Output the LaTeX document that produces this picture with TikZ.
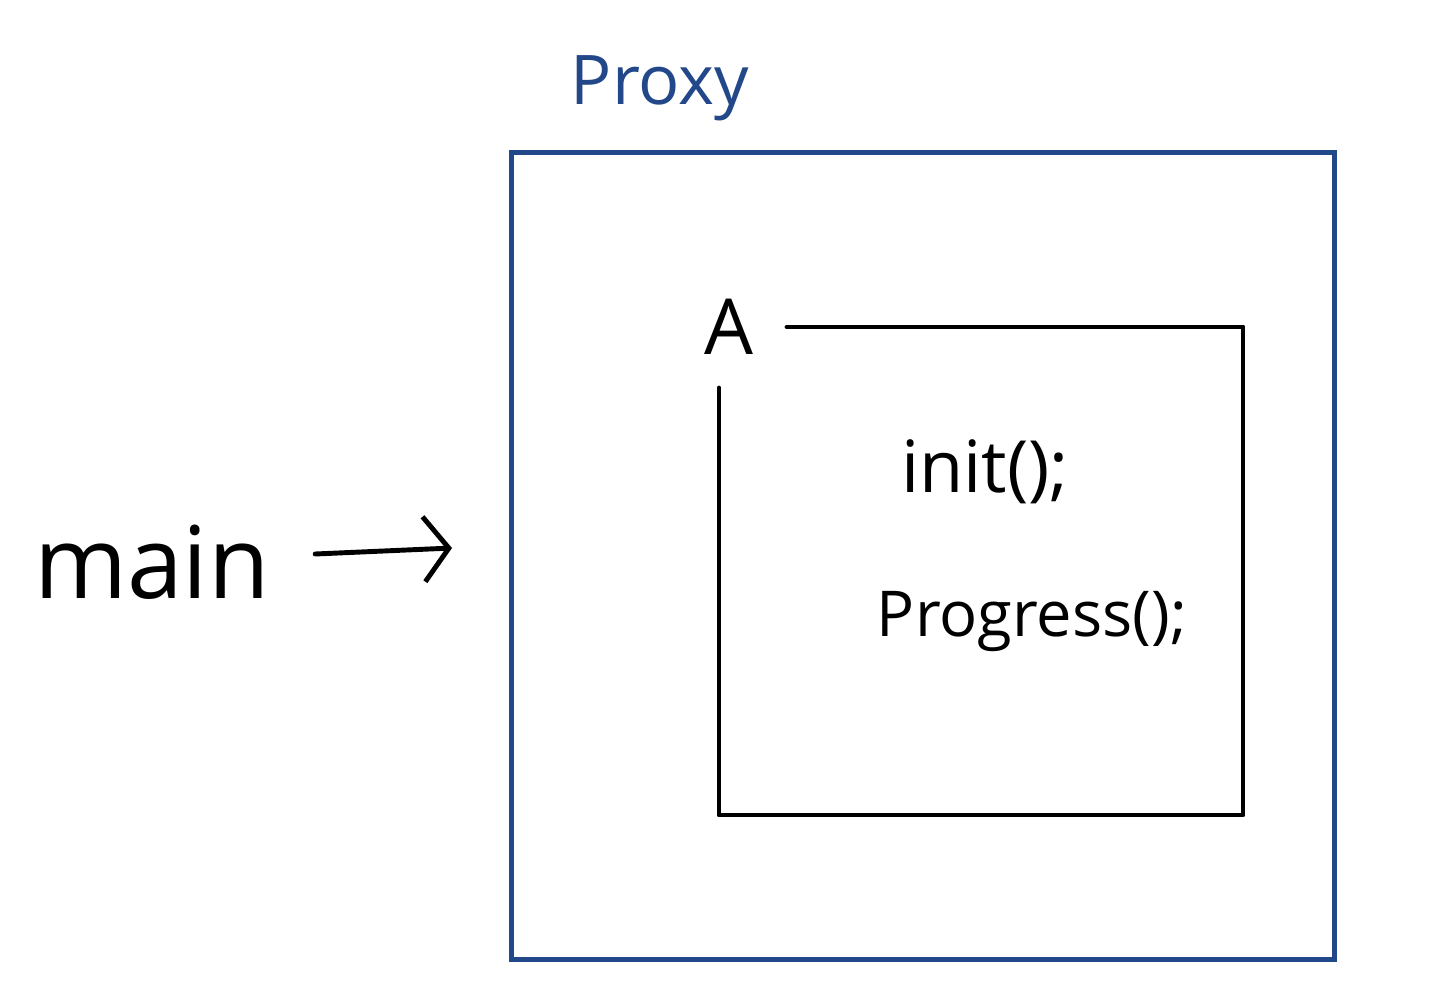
\documentclass[tikz,border=0pt]{standalone}
\usepackage{fontspec}
\setmainfont{Open Sans}
\usetikzlibrary{arrows.meta, positioning, calc}
\definecolor{pxBlue}{HTML}{23488A}
\definecolor{pxInk}{HTML}{000000}
\tikzset{
  pxframe/.style={
    draw=pxBlue, line width=2.8pt, minimum width=16.48cm,
    minimum height=16.16cm, inner sep=0pt,
  },
  pxline/.style={draw=pxInk, line width=2.8pt, line cap=round, line join=round},
  pxarrow/.style={
    -{Straight Barb[length=5mm, width=13mm, line width=2.8pt]}, draw=pxInk,
    line width=2.8pt, line cap=round,
  },
  pxlabel/.style={inner sep=0pt, font=\fontsize{#1}{#1}\selectfont},
}

\begin{document}
\begin{tikzpicture}[x=0.02cm, y=-0.02cm]
\useasboundingbox (0,0) rectangle (1440,1004);

% Proxy frame -------------------------------------------------------------
\node[pxframe] (proxybox) at (923,556) {};
\node[pxlabel=39pt, text=pxBlue] (proxyname) at (660,88) {Proxy};

% Inner class A -----------------------------------------------------------
\coordinate (atop) at (787,327);
\coordinate (aside) at (719,388);
\draw[pxline] (atop) -- (1243,327) -- (1243,815) -- (719,815) -- (aside);
\node[pxlabel=44pt] (aname) at (729,327) {A};
\node[pxlabel=41pt] (initcall) at (985,472) {init();};
\node[pxlabel=36pt] (progcall) at (1032,622) {Progress();};

% Caller ------------------------------------------------------------------
\node[pxlabel=57pt] (caller) at (152,562) {main};
\coordinate (callend) at (452,548);
\draw[pxarrow] ($(caller.east)+(45,-8)$) -- (callend);

\end{tikzpicture}
\end{document}
